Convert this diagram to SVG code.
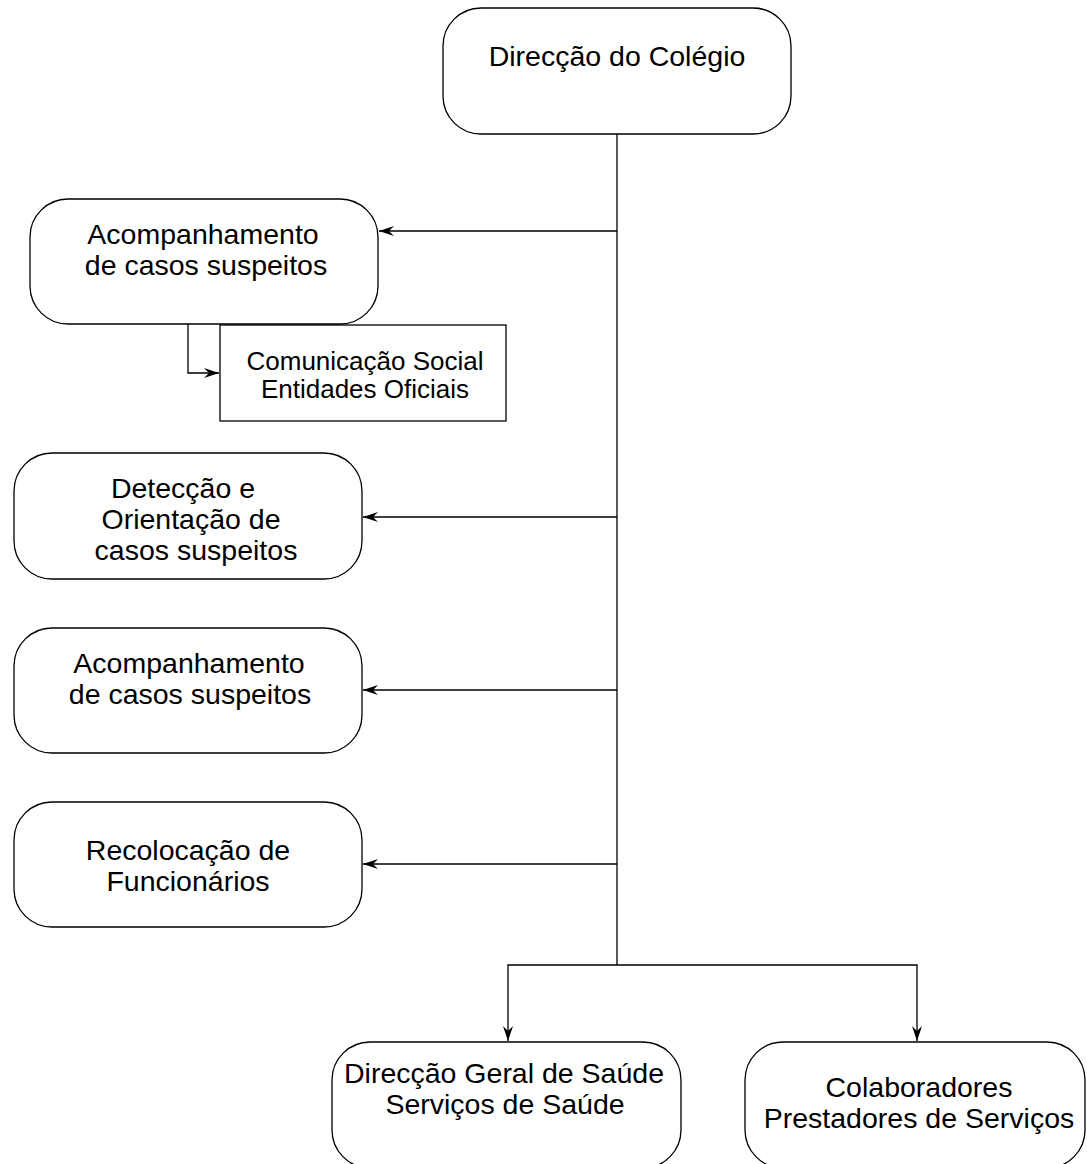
<svg xmlns="http://www.w3.org/2000/svg" width="1087" height="1164" viewBox="0 0 1087 1164">
<style>
.n{fill:#fff;stroke:#000;stroke-width:1.3}
.t{font-family:"Liberation Sans",Arial,sans-serif;font-size:28.5px;fill:#000;text-anchor:middle}
.s{font-family:"Liberation Sans",Arial,sans-serif;font-size:26px;fill:#000;text-anchor:middle}
.c{fill:none;stroke:#000;stroke-width:1.3}
</style>
<defs>
<marker id="a" markerWidth="16" markerHeight="10" refX="15" refY="5" orient="auto" markerUnits="userSpaceOnUse">
<path d="M0,0 L15,5 L0,10 L5,5 Z" fill="#000"/>
</marker>
</defs>
<rect width="1087" height="1164" fill="#fff"/>
<g id="connectors">
<path class="c" d="M617,134 V965"/>
<path class="c" d="M617,231 H379" marker-end="url(#a)"/>
<path class="c" d="M617,517 H363" marker-end="url(#a)"/>
<path class="c" d="M617,690 H363" marker-end="url(#a)"/>
<path class="c" d="M617,864 H363" marker-end="url(#a)"/>
<path class="c" d="M617,965 H917 V1041" marker-end="url(#a)"/>
<path class="c" d="M617,965 H508 V1041" marker-end="url(#a)"/>
<path class="c" d="M188,324 V373 H219" marker-end="url(#a)"/>
</g>
<g id="n1"><rect class="n" x="443" y="8" width="348" height="126" rx="38"/><text class="t" x="617" y="66">Direcção do Colégio</text></g>
<g id="n2"><rect class="n" x="30" y="199" width="348" height="125" rx="38"/><text class="t" x="203" y="244">Acompanhamento</text><text class="t" x="206" y="275">de casos suspeitos</text></g>
<g id="n3"><rect class="n" x="220" y="325" width="286" height="96"/><text class="s" x="365" y="370">Comunicação Social</text><text class="s" x="365" y="398">Entidades Oficiais</text></g>
<g id="n4"><rect class="n" x="14" y="453" width="348" height="126" rx="38"/><text class="t" x="183" y="498">Detecção e</text><text class="t" x="191" y="529">Orientação de</text><text class="t" x="196" y="560">casos suspeitos</text></g>
<g id="n5"><rect class="n" x="14" y="628" width="348" height="125" rx="38"/><text class="t" x="189" y="673">Acompanhamento</text><text class="t" x="190" y="704">de casos suspeitos</text></g>
<g id="n6"><rect class="n" x="14" y="802" width="348" height="125" rx="38"/><text class="t" x="188" y="860">Recolocação de</text><text class="t" x="188" y="891">Funcionários</text></g>
<g id="n7"><rect class="n" x="332" y="1042" width="349" height="126" rx="38"/><text class="t" x="504" y="1083">Direcção Geral de Saúde</text><text class="t" x="505" y="1114">Serviços de Saúde</text></g>
<g id="n8"><rect class="n" x="745" y="1042" width="340" height="126" rx="38"/><text class="t" x="919" y="1097">Colaboradores</text><text class="t" x="919" y="1128">Prestadores de Serviços</text></g>
</svg>
